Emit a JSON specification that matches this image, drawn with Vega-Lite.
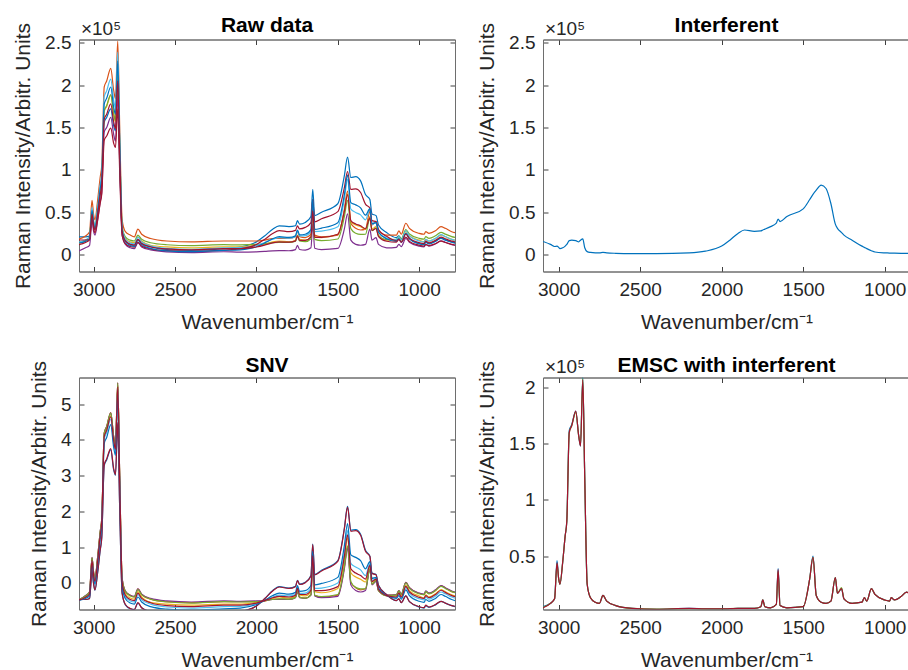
{
"$schema":"https://vega.github.io/schema/vega-lite/v6.json",
"padding":{"left":12,"top":14.5,"right":0,"bottom":0},
"config":{"font":"Liberation Sans","view":{"stroke":"#6e6e6e","strokeWidth":1},
"axis":{"labelFont":"Liberation Sans","labelFontSize":19,"labelColor":"#262626","titleFont":"Liberation Sans","titleFontSize":21,"titleFontWeight":"normal","titleColor":"#262626","domain":true,"ticks":true,"domainColor":"#6e6e6e","tickColor":"#404040","domainWidth":1,"tickWidth":1,"grid":false,"tickSize":-5},
"text":{"font":"Liberation Sans","fontSize":19,"color":"#262626"},
"title":{"font":"Liberation Sans","fontSize":21,"fontWeight":"bold","color":"#000000","anchor":"middle","frame":"group"}},
"datasets":{
"raw":[
{"s":1,"x":3095,"y":0.21},{"s":1,"x":3050,"y":0.21},{"s":1,"x":3025,"y":0.22},{"s":1,"x":3010,"y":0.5},{"s":1,"x":3000,"y":0.36},{"s":1,"x":2992,"y":0.31},{"s":1,"x":2975,"y":0.49},{"s":1,"x":2960,"y":0.7},{"s":1,"x":2950,"y":0.84},{"s":1,"x":2935,"y":1.56},{"s":1,"x":2920,"y":1.62},{"s":1,"x":2895,"y":1.72},{"s":1,"x":2877,"y":1.52},{"s":1,"x":2866,"y":1.46},{"s":1,"x":2852,"y":1.99},{"s":1,"x":2840,"y":1.13},{"s":1,"x":2825,"y":0.27},{"s":1,"x":2805,"y":0.16},{"s":1,"x":2775,"y":0.12},{"s":1,"x":2750,"y":0.11},{"s":1,"x":2728,"y":0.17},{"s":1,"x":2705,"y":0.13},{"s":1,"x":2650,"y":0.09},{"s":1,"x":2550,"y":0.06},{"s":1,"x":2400,"y":0.05},{"s":1,"x":2200,"y":0.07},{"s":1,"x":2100,"y":0.09},{"s":1,"x":2000,"y":0.15},{"s":1,"x":1950,"y":0.22},{"s":1,"x":1900,"y":0.3},{"s":1,"x":1860,"y":0.34},{"s":1,"x":1800,"y":0.33},{"s":1,"x":1760,"y":0.34},{"s":1,"x":1748,"y":0.4},{"s":1,"x":1735,"y":0.36},{"s":1,"x":1700,"y":0.38},{"s":1,"x":1665,"y":0.45},{"s":1,"x":1654,"y":0.77},{"s":1,"x":1642,"y":0.46},{"s":1,"x":1600,"y":0.5},{"s":1,"x":1500,"y":0.6},{"s":1,"x":1460,"y":0.93},{"s":1,"x":1440,"y":1.15},{"s":1,"x":1420,"y":0.91},{"s":1,"x":1390,"y":0.92},{"s":1,"x":1360,"y":0.87},{"s":1,"x":1330,"y":0.71},{"s":1,"x":1303,"y":0.65},{"s":1,"x":1290,"y":0.48},{"s":1,"x":1265,"y":0.46},{"s":1,"x":1250,"y":0.35},{"s":1,"x":1200,"y":0.26},{"s":1,"x":1140,"y":0.2},{"s":1,"x":1125,"y":0.22},{"s":1,"x":1110,"y":0.18},{"s":1,"x":1082,"y":0.25},{"s":1,"x":1060,"y":0.19},{"s":1,"x":1000,"y":0.13},{"s":1,"x":970,"y":0.12},{"s":1,"x":960,"y":0.15},{"s":1,"x":940,"y":0.13},{"s":1,"x":900,"y":0.16},{"s":1,"x":866,"y":0.19},{"s":1,"x":840,"y":0.17},{"s":1,"x":800,"y":0.15},{"s":1,"x":780,"y":0.14},
{"s":2,"x":3095,"y":0.18},{"s":2,"x":3050,"y":0.22},{"s":2,"x":3025,"y":0.27},{"s":2,"x":3010,"y":0.64},{"s":2,"x":3000,"y":0.47},{"s":2,"x":2992,"y":0.41},{"s":2,"x":2975,"y":0.65},{"s":2,"x":2960,"y":0.91},{"s":2,"x":2950,"y":1.06},{"s":2,"x":2935,"y":1.98},{"s":2,"x":2920,"y":2.05},{"s":2,"x":2895,"y":2.2},{"s":2,"x":2877,"y":1.94},{"s":2,"x":2866,"y":1.84},{"s":2,"x":2852,"y":2.52},{"s":2,"x":2840,"y":1.51},{"s":2,"x":2825,"y":0.41},{"s":2,"x":2805,"y":0.27},{"s":2,"x":2775,"y":0.23},{"s":2,"x":2750,"y":0.21},{"s":2,"x":2728,"y":0.3},{"s":2,"x":2705,"y":0.24},{"s":2,"x":2650,"y":0.19},{"s":2,"x":2550,"y":0.16},{"s":2,"x":2400,"y":0.15},{"s":2,"x":2200,"y":0.16},{"s":2,"x":2100,"y":0.16},{"s":2,"x":2000,"y":0.16},{"s":2,"x":1950,"y":0.17},{"s":2,"x":1900,"y":0.19},{"s":2,"x":1860,"y":0.19},{"s":2,"x":1800,"y":0.19},{"s":2,"x":1760,"y":0.21},{"s":2,"x":1748,"y":0.28},{"s":2,"x":1735,"y":0.21},{"s":2,"x":1700,"y":0.2},{"s":2,"x":1665,"y":0.24},{"s":2,"x":1654,"y":0.6},{"s":2,"x":1642,"y":0.23},{"s":2,"x":1600,"y":0.21},{"s":2,"x":1500,"y":0.23},{"s":2,"x":1460,"y":0.53},{"s":2,"x":1440,"y":0.75},{"s":2,"x":1420,"y":0.37},{"s":2,"x":1390,"y":0.31},{"s":2,"x":1360,"y":0.29},{"s":2,"x":1330,"y":0.3},{"s":2,"x":1303,"y":0.51},{"s":2,"x":1290,"y":0.35},{"s":2,"x":1265,"y":0.39},{"s":2,"x":1250,"y":0.28},{"s":2,"x":1200,"y":0.23},{"s":2,"x":1140,"y":0.23},{"s":2,"x":1125,"y":0.28},{"s":2,"x":1110,"y":0.24},{"s":2,"x":1082,"y":0.37},{"s":2,"x":1060,"y":0.31},{"s":2,"x":1000,"y":0.25},{"s":2,"x":970,"y":0.24},{"s":2,"x":960,"y":0.27},{"s":2,"x":940,"y":0.25},{"s":2,"x":900,"y":0.28},{"s":2,"x":866,"y":0.33},{"s":2,"x":840,"y":0.31},{"s":2,"x":800,"y":0.27},{"s":2,"x":780,"y":0.26},
{"s":3,"x":3095,"y":0.13},{"s":3,"x":3050,"y":0.16},{"s":3,"x":3025,"y":0.19},{"s":3,"x":3010,"y":0.52},{"s":3,"x":3000,"y":0.37},{"s":3,"x":2992,"y":0.32},{"s":3,"x":2975,"y":0.52},{"s":3,"x":2960,"y":0.76},{"s":3,"x":2950,"y":0.89},{"s":3,"x":2935,"y":1.69},{"s":3,"x":2920,"y":1.75},{"s":3,"x":2895,"y":1.88},{"s":3,"x":2877,"y":1.66},{"s":3,"x":2866,"y":1.57},{"s":3,"x":2852,"y":2.17},{"s":3,"x":2840,"y":1.27},{"s":3,"x":2825,"y":0.31},{"s":3,"x":2805,"y":0.19},{"s":3,"x":2775,"y":0.15},{"s":3,"x":2750,"y":0.14},{"s":3,"x":2728,"y":0.21},{"s":3,"x":2705,"y":0.16},{"s":3,"x":2650,"y":0.11},{"s":3,"x":2550,"y":0.09},{"s":3,"x":2400,"y":0.08},{"s":3,"x":2200,"y":0.09},{"s":3,"x":2100,"y":0.09},{"s":3,"x":2000,"y":0.11},{"s":3,"x":1950,"y":0.12},{"s":3,"x":1900,"y":0.15},{"s":3,"x":1860,"y":0.16},{"s":3,"x":1800,"y":0.15},{"s":3,"x":1760,"y":0.17},{"s":3,"x":1748,"y":0.23},{"s":3,"x":1735,"y":0.18},{"s":3,"x":1700,"y":0.17},{"s":3,"x":1665,"y":0.21},{"s":3,"x":1654,"y":0.54},{"s":3,"x":1642,"y":0.21},{"s":3,"x":1600,"y":0.2},{"s":3,"x":1500,"y":0.24},{"s":3,"x":1460,"y":0.51},{"s":3,"x":1440,"y":0.72},{"s":3,"x":1420,"y":0.39},{"s":3,"x":1390,"y":0.35},{"s":3,"x":1360,"y":0.33},{"s":3,"x":1330,"y":0.3},{"s":3,"x":1303,"y":0.45},{"s":3,"x":1290,"y":0.3},{"s":3,"x":1265,"y":0.33},{"s":3,"x":1250,"y":0.23},{"s":3,"x":1200,"y":0.17},{"s":3,"x":1140,"y":0.17},{"s":3,"x":1125,"y":0.2},{"s":3,"x":1110,"y":0.17},{"s":3,"x":1082,"y":0.27},{"s":3,"x":1060,"y":0.22},{"s":3,"x":1000,"y":0.17},{"s":3,"x":970,"y":0.15},{"s":3,"x":960,"y":0.18},{"s":3,"x":940,"y":0.16},{"s":3,"x":900,"y":0.19},{"s":3,"x":866,"y":0.23},{"s":3,"x":840,"y":0.21},{"s":3,"x":800,"y":0.18},{"s":3,"x":780,"y":0.17},
{"s":4,"x":3095,"y":0.04},{"s":4,"x":3050,"y":0.08},{"s":4,"x":3025,"y":0.11},{"s":4,"x":3010,"y":0.4},{"s":4,"x":3000,"y":0.27},{"s":4,"x":2992,"y":0.23},{"s":4,"x":2975,"y":0.41},{"s":4,"x":2960,"y":0.62},{"s":4,"x":2950,"y":0.74},{"s":4,"x":2935,"y":1.45},{"s":4,"x":2920,"y":1.5},{"s":4,"x":2895,"y":1.62},{"s":4,"x":2877,"y":1.42},{"s":4,"x":2866,"y":1.34},{"s":4,"x":2852,"y":1.87},{"s":4,"x":2840,"y":1.08},{"s":4,"x":2825,"y":0.23},{"s":4,"x":2805,"y":0.12},{"s":4,"x":2775,"y":0.08},{"s":4,"x":2750,"y":0.07},{"s":4,"x":2728,"y":0.14},{"s":4,"x":2705,"y":0.09},{"s":4,"x":2650,"y":0.055},{"s":4,"x":2550,"y":0.032},{"s":4,"x":2400,"y":0.023},{"s":4,"x":2200,"y":0.033},{"s":4,"x":2100,"y":0.029},{"s":4,"x":2000,"y":0.032},{"s":4,"x":1950,"y":0.037},{"s":4,"x":1900,"y":0.044},{"s":4,"x":1860,"y":0.046},{"s":4,"x":1800,"y":0.045},{"s":4,"x":1760,"y":0.059},{"s":4,"x":1748,"y":0.11},{"s":4,"x":1735,"y":0.06},{"s":4,"x":1700,"y":0.053},{"s":4,"x":1665,"y":0.08},{"s":4,"x":1654,"y":0.36},{"s":4,"x":1642,"y":0.074},{"s":4,"x":1600,"y":0.059},{"s":4,"x":1500,"y":0.072},{"s":4,"x":1460,"y":0.3},{"s":4,"x":1440,"y":0.48},{"s":4,"x":1420,"y":0.17},{"s":4,"x":1390,"y":0.12},{"s":4,"x":1360,"y":0.11},{"s":4,"x":1330,"y":0.12},{"s":4,"x":1303,"y":0.3},{"s":4,"x":1290,"y":0.17},{"s":4,"x":1265,"y":0.2},{"s":4,"x":1250,"y":0.12},{"s":4,"x":1200,"y":0.08},{"s":4,"x":1140,"y":0.086},{"s":4,"x":1125,"y":0.12},{"s":4,"x":1110,"y":0.094},{"s":4,"x":1082,"y":0.19},{"s":4,"x":1060,"y":0.146},{"s":4,"x":1000,"y":0.1},{"s":4,"x":970,"y":0.091},{"s":4,"x":960,"y":0.118},{"s":4,"x":940,"y":0.1},{"s":4,"x":900,"y":0.127},{"s":4,"x":866,"y":0.163},{"s":4,"x":840,"y":0.145},{"s":4,"x":800,"y":0.118},{"s":4,"x":780,"y":0.109},
{"s":5,"x":3095,"y":0.14},{"s":5,"x":3050,"y":0.17},{"s":5,"x":3025,"y":0.21},{"s":5,"x":3010,"y":0.53},{"s":5,"x":3000,"y":0.39},{"s":5,"x":2992,"y":0.34},{"s":5,"x":2975,"y":0.54},{"s":5,"x":2960,"y":0.77},{"s":5,"x":2950,"y":0.9},{"s":5,"x":2935,"y":1.7},{"s":5,"x":2920,"y":1.76},{"s":5,"x":2895,"y":1.89},{"s":5,"x":2877,"y":1.67},{"s":5,"x":2866,"y":1.58},{"s":5,"x":2852,"y":2.17},{"s":5,"x":2840,"y":1.29},{"s":5,"x":2825,"y":0.33},{"s":5,"x":2805,"y":0.21},{"s":5,"x":2775,"y":0.17},{"s":5,"x":2750,"y":0.16},{"s":5,"x":2728,"y":0.23},{"s":5,"x":2705,"y":0.18},{"s":5,"x":2650,"y":0.14},{"s":5,"x":2550,"y":0.116},{"s":5,"x":2400,"y":0.106},{"s":5,"x":2200,"y":0.117},{"s":5,"x":2100,"y":0.114},{"s":5,"x":2000,"y":0.12},{"s":5,"x":1950,"y":0.129},{"s":5,"x":1900,"y":0.14},{"s":5,"x":1860,"y":0.144},{"s":5,"x":1800,"y":0.143},{"s":5,"x":1760,"y":0.158},{"s":5,"x":1748,"y":0.219},{"s":5,"x":1735,"y":0.16},{"s":5,"x":1700,"y":0.153},{"s":5,"x":1665,"y":0.187},{"s":5,"x":1654,"y":0.502},{"s":5,"x":1642,"y":0.179},{"s":5,"x":1600,"y":0.165},{"s":5,"x":1500,"y":0.184},{"s":5,"x":1460,"y":0.445},{"s":5,"x":1440,"y":0.641},{"s":5,"x":1420,"y":0.306},{"s":5,"x":1390,"y":0.252},{"s":5,"x":1360,"y":0.238},{"s":5,"x":1330,"y":0.24},{"s":5,"x":1303,"y":0.426},{"s":5,"x":1290,"y":0.281},{"s":5,"x":1265,"y":0.316},{"s":5,"x":1250,"y":0.223},{"s":5,"x":1200,"y":0.177},{"s":5,"x":1140,"y":0.18},{"s":5,"x":1125,"y":0.219},{"s":5,"x":1110,"y":0.187},{"s":5,"x":1082,"y":0.295},{"s":5,"x":1060,"y":0.243},{"s":5,"x":1000,"y":0.192},{"s":5,"x":970,"y":0.182},{"s":5,"x":960,"y":0.212},{"s":5,"x":940,"y":0.192},{"s":5,"x":900,"y":0.222},{"s":5,"x":866,"y":0.262},{"s":5,"x":840,"y":0.242},{"s":5,"x":800,"y":0.212},{"s":5,"x":780,"y":0.202},
{"s":6,"x":3095,"y":0.144},{"s":6,"x":3050,"y":0.172},{"s":6,"x":3025,"y":0.205},{"s":6,"x":3010,"y":0.559},{"s":6,"x":3000,"y":0.398},{"s":6,"x":2992,"y":0.337},{"s":6,"x":2975,"y":0.561},{"s":6,"x":2960,"y":0.823},{"s":6,"x":2950,"y":0.975},{"s":6,"x":2935,"y":1.864},{"s":6,"x":2920,"y":1.933},{"s":6,"x":2895,"y":2.073},{"s":6,"x":2877,"y":1.825},{"s":6,"x":2866,"y":1.735},{"s":6,"x":2852,"y":2.39},{"s":6,"x":2840,"y":1.386},{"s":6,"x":2825,"y":0.321},{"s":6,"x":2805,"y":0.184},{"s":6,"x":2775,"y":0.138},{"s":6,"x":2750,"y":0.127},{"s":6,"x":2728,"y":0.206},{"s":6,"x":2705,"y":0.149},{"s":6,"x":2650,"y":0.103},{"s":6,"x":2550,"y":0.074},{"s":6,"x":2400,"y":0.063},{"s":6,"x":2200,"y":0.078},{"s":6,"x":2100,"y":0.081},{"s":6,"x":2000,"y":0.108},{"s":6,"x":1950,"y":0.142},{"s":6,"x":1900,"y":0.181},{"s":6,"x":1860,"y":0.199},{"s":6,"x":1800,"y":0.193},{"s":6,"x":1760,"y":0.211},{"s":6,"x":1748,"y":0.282},{"s":6,"x":1735,"y":0.22},{"s":6,"x":1700,"y":0.223},{"s":6,"x":1665,"y":0.274},{"s":6,"x":1654,"y":0.637},{"s":6,"x":1642,"y":0.272},{"s":6,"x":1600,"y":0.277},{"s":6,"x":1500,"y":0.328},{"s":6,"x":1460,"y":0.653},{"s":6,"x":1440,"y":0.889},{"s":6,"x":1420,"y":0.537},{"s":6,"x":1390,"y":0.498},{"s":6,"x":1360,"y":0.469},{"s":6,"x":1330,"y":0.41},{"s":6,"x":1303,"y":0.533},{"s":6,"x":1290,"y":0.357},{"s":6,"x":1265,"y":0.378},{"s":6,"x":1250,"y":0.266},{"s":6,"x":1200,"y":0.195},{"s":6,"x":1140,"y":0.174},{"s":6,"x":1125,"y":0.211},{"s":6,"x":1110,"y":0.172},{"s":6,"x":1082,"y":0.281},{"s":6,"x":1060,"y":0.22},{"s":6,"x":1000,"y":0.16},{"s":6,"x":970,"y":0.148},{"s":6,"x":960,"y":0.181},{"s":6,"x":940,"y":0.158},{"s":6,"x":900,"y":0.191},{"s":6,"x":866,"y":0.235},{"s":6,"x":840,"y":0.213},{"s":6,"x":800,"y":0.18},{"s":6,"x":780,"y":0.169},
{"s":7,"x":3095,"y":0.172},{"s":7,"x":3050,"y":0.172},{"s":7,"x":3025,"y":0.181},{"s":7,"x":3010,"y":0.425},{"s":7,"x":3000,"y":0.307},{"s":7,"x":2992,"y":0.257},{"s":7,"x":2975,"y":0.416},{"s":7,"x":2960,"y":0.605},{"s":7,"x":2950,"y":0.72},{"s":7,"x":2935,"y":1.35},{"s":7,"x":2920,"y":1.4},{"s":7,"x":2895,"y":1.493},{"s":7,"x":2877,"y":1.315},{"s":7,"x":2866,"y":1.265},{"s":7,"x":2852,"y":1.72},{"s":7,"x":2840,"y":0.978},{"s":7,"x":2825,"y":0.228},{"s":7,"x":2805,"y":0.129},{"s":7,"x":2775,"y":0.095},{"s":7,"x":2750,"y":0.087},{"s":7,"x":2728,"y":0.144},{"s":7,"x":2705,"y":0.102},{"s":7,"x":2650,"y":0.068},{"s":7,"x":2550,"y":0.046},{"s":7,"x":2400,"y":0.039},{"s":7,"x":2200,"y":0.053},{"s":7,"x":2100,"y":0.067},{"s":7,"x":2000,"y":0.118},{"s":7,"x":1950,"y":0.179},{"s":7,"x":1900,"y":0.249},{"s":7,"x":1860,"y":0.283},{"s":7,"x":1800,"y":0.27},{"s":7,"x":1760,"y":0.286},{"s":7,"x":1748,"y":0.339},{"s":7,"x":1735,"y":0.303},{"s":7,"x":1700,"y":0.321},{"s":7,"x":1665,"y":0.377},{"s":7,"x":1654,"y":0.652},{"s":7,"x":1642,"y":0.387},{"s":7,"x":1600,"y":0.423},{"s":7,"x":1500,"y":0.507},{"s":7,"x":1460,"y":0.788},{"s":7,"x":1440,"y":0.981},{"s":7,"x":1420,"y":0.769},{"s":7,"x":1390,"y":0.775},{"s":7,"x":1360,"y":0.733},{"s":7,"x":1330,"y":0.595},{"s":7,"x":1303,"y":0.549},{"s":7,"x":1290,"y":0.401},{"s":7,"x":1265,"y":0.389},{"s":7,"x":1250,"y":0.296},{"s":7,"x":1200,"y":0.215},{"s":7,"x":1140,"y":0.163},{"s":7,"x":1125,"y":0.18},{"s":7,"x":1110,"y":0.145},{"s":7,"x":1082,"y":0.206},{"s":7,"x":1060,"y":0.156},{"s":7,"x":1000,"y":0.11},{"s":7,"x":970,"y":0.1},{"s":7,"x":960,"y":0.122},{"s":7,"x":940,"y":0.106},{"s":7,"x":900,"y":0.128},{"s":7,"x":866,"y":0.158},{"s":7,"x":840,"y":0.143},{"s":7,"x":800,"y":0.12},{"s":7,"x":780,"y":0.113},
{"s":8,"x":3095,"y":0.135},{"s":8,"x":3050,"y":0.156},{"s":8,"x":3025,"y":0.183},{"s":8,"x":3010,"y":0.522},{"s":8,"x":3000,"y":0.366},{"s":8,"x":2992,"y":0.305},{"s":8,"x":2975,"y":0.521},{"s":8,"x":2960,"y":0.774},{"s":8,"x":2950,"y":0.923},{"s":8,"x":2935,"y":1.779},{"s":8,"x":2920,"y":1.845},{"s":8,"x":2895,"y":1.979},{"s":8,"x":2877,"y":1.739},{"s":8,"x":2866,"y":1.656},{"s":8,"x":2852,"y":2.285},{"s":8,"x":2840,"y":1.308},{"s":8,"x":2825,"y":0.284},{"s":8,"x":2805,"y":0.152},{"s":8,"x":2775,"y":0.107},{"s":8,"x":2750,"y":0.096},{"s":8,"x":2728,"y":0.173},{"s":8,"x":2705,"y":0.117},{"s":8,"x":2650,"y":0.072},{"s":8,"x":2550,"y":0.044},{"s":8,"x":2400,"y":0.034},{"s":8,"x":2200,"y":0.049},{"s":8,"x":2100,"y":0.056},{"s":8,"x":2000,"y":0.092},{"s":8,"x":1950,"y":0.136},{"s":8,"x":1900,"y":0.187},{"s":8,"x":1860,"y":0.211},{"s":8,"x":1800,"y":0.202},{"s":8,"x":1760,"y":0.221},{"s":8,"x":1748,"y":0.29},{"s":8,"x":1735,"y":0.233},{"s":8,"x":1700,"y":0.24},{"s":8,"x":1665,"y":0.296},{"s":8,"x":1654,"y":0.651},{"s":8,"x":1642,"y":0.297},{"s":8,"x":1600,"y":0.312},{"s":8,"x":1500,"y":0.377},{"s":8,"x":1460,"y":0.705},{"s":8,"x":1440,"y":0.941},{"s":8,"x":1420,"y":0.614},{"s":8,"x":1390,"y":0.587},{"s":8,"x":1360,"y":0.552},{"s":8,"x":1330,"y":0.465},{"s":8,"x":1303,"y":0.542},{"s":8,"x":1290,"y":0.365},{"s":8,"x":1265,"y":0.377},{"s":8,"x":1250,"y":0.264},{"s":8,"x":1200,"y":0.186},{"s":8,"x":1140,"y":0.155},{"s":8,"x":1125,"y":0.188},{"s":8,"x":1110,"y":0.147},{"s":8,"x":1082,"y":0.248},{"s":8,"x":1060,"y":0.186},{"s":8,"x":1000,"y":0.128},{"s":8,"x":970,"y":0.116},{"s":8,"x":960,"y":0.147},{"s":8,"x":940,"y":0.125},{"s":8,"x":900,"y":0.156},{"s":8,"x":866,"y":0.198},{"s":8,"x":840,"y":0.177},{"s":8,"x":800,"y":0.146},{"s":8,"x":780,"y":0.135},
{"s":9,"x":3095,"y":0.115},{"s":9,"x":3050,"y":0.142},{"s":9,"x":3025,"y":0.173},{"s":9,"x":3010,"y":0.478},{"s":9,"x":3000,"y":0.341},{"s":9,"x":2992,"y":0.289},{"s":9,"x":2975,"y":0.482},{"s":9,"x":2960,"y":0.706},{"s":9,"x":2950,"y":0.836},{"s":9,"x":2935,"y":1.6},{"s":9,"x":2920,"y":1.658},{"s":9,"x":2895,"y":1.78},{"s":9,"x":2877,"y":1.567},{"s":9,"x":2866,"y":1.487},{"s":9,"x":2852,"y":2.052},{"s":9,"x":2840,"y":1.194},{"s":9,"x":2825,"y":0.278},{"s":9,"x":2805,"y":0.161},{"s":9,"x":2775,"y":0.122},{"s":9,"x":2750,"y":0.112},{"s":9,"x":2728,"y":0.18},{"s":9,"x":2705,"y":0.131},{"s":9,"x":2650,"y":0.092},{"s":9,"x":2550,"y":0.067},{"s":9,"x":2400,"y":0.057},{"s":9,"x":2200,"y":0.069},{"s":9,"x":2100,"y":0.071},{"s":9,"x":2000,"y":0.089},{"s":9,"x":1950,"y":0.111},{"s":9,"x":1900,"y":0.138},{"s":9,"x":1860,"y":0.15},{"s":9,"x":1800,"y":0.146},{"s":9,"x":1760,"y":0.162},{"s":9,"x":1748,"y":0.222},{"s":9,"x":1735,"y":0.168},{"s":9,"x":1700,"y":0.167},{"s":9,"x":1665,"y":0.208},{"s":9,"x":1654,"y":0.517},{"s":9,"x":1642,"y":0.204},{"s":9,"x":1600,"y":0.203},{"s":9,"x":1500,"y":0.24},{"s":9,"x":1460,"y":0.51},{"s":9,"x":1440,"y":0.709},{"s":9,"x":1420,"y":0.401},{"s":9,"x":1390,"y":0.362},{"s":9,"x":1360,"y":0.34},{"s":9,"x":1330,"y":0.305},{"s":9,"x":1303,"y":0.433},{"s":9,"x":1290,"y":0.285},{"s":9,"x":1265,"y":0.308},{"s":9,"x":1250,"y":0.213},{"s":9,"x":1200,"y":0.157},{"s":9,"x":1140,"y":0.146},{"s":9,"x":1125,"y":0.179},{"s":9,"x":1110,"y":0.146},{"s":9,"x":1082,"y":0.243},{"s":9,"x":1060,"y":0.191},{"s":9,"x":1000,"y":0.141},{"s":9,"x":970,"y":0.13},{"s":9,"x":960,"y":0.159},{"s":9,"x":940,"y":0.139},{"s":9,"x":900,"y":0.168},{"s":9,"x":866,"y":0.206},{"s":9,"x":840,"y":0.187},{"s":9,"x":800,"y":0.158},{"s":9,"x":780,"y":0.149}
],
"snv":[
{"s":1,"x":3095,"y":-0.47},{"s":1,"x":3050,"y":-0.47},{"s":1,"x":3025,"y":-0.45},{"s":1,"x":3010,"y":0.33},{"s":1,"x":3000,"y":-0.04},{"s":1,"x":2992,"y":-0.21},{"s":1,"x":2975,"y":0.3},{"s":1,"x":2960,"y":0.9},{"s":1,"x":2950,"y":1.27},{"s":1,"x":2935,"y":3.28},{"s":1,"x":2920,"y":3.44},{"s":1,"x":2895,"y":3.73},{"s":1,"x":2877,"y":3.16},{"s":1,"x":2866,"y":3.01},{"s":1,"x":2852,"y":4.45},{"s":1,"x":2840,"y":2.09},{"s":1,"x":2825,"y":-0.3},{"s":1,"x":2805,"y":-0.62},{"s":1,"x":2775,"y":-0.73},{"s":1,"x":2750,"y":-0.75},{"s":1,"x":2728,"y":-0.57},{"s":1,"x":2705,"y":-0.7},{"s":1,"x":2650,"y":-0.81},{"s":1,"x":2550,"y":-0.88},{"s":1,"x":2400,"y":-0.9},{"s":1,"x":2200,"y":-0.86},{"s":1,"x":2100,"y":-0.81},{"s":1,"x":2000,"y":-0.65},{"s":1,"x":1950,"y":-0.45},{"s":1,"x":1900,"y":-0.22},{"s":1,"x":1860,"y":-0.11},{"s":1,"x":1800,"y":-0.15},{"s":1,"x":1760,"y":-0.1},{"s":1,"x":1748,"y":0.07},{"s":1,"x":1735,"y":-0.04},{"s":1,"x":1700,"y":0.01},{"s":1,"x":1665,"y":0.2},{"s":1,"x":1654,"y":1.08},{"s":1,"x":1642,"y":0.23},{"s":1,"x":1600,"y":0.35},{"s":1,"x":1500,"y":0.62},{"s":1,"x":1460,"y":1.52},{"s":1,"x":1440,"y":2.14},{"s":1,"x":1420,"y":1.47},{"s":1,"x":1390,"y":1.49},{"s":1,"x":1360,"y":1.36},{"s":1,"x":1330,"y":0.91},{"s":1,"x":1303,"y":0.74},{"s":1,"x":1290,"y":0.27},{"s":1,"x":1265,"y":0.23},{"s":1,"x":1250,"y":-0.07},{"s":1,"x":1200,"y":-0.33},{"s":1,"x":1140,"y":-0.5},{"s":1,"x":1125,"y":-0.45},{"s":1,"x":1110,"y":-0.56},{"s":1,"x":1082,"y":-0.37},{"s":1,"x":1060,"y":-0.53},{"s":1,"x":1000,"y":-0.68},{"s":1,"x":970,"y":-0.71},{"s":1,"x":960,"y":-0.64},{"s":1,"x":940,"y":-0.69},{"s":1,"x":900,"y":-0.62},{"s":1,"x":866,"y":-0.52},{"s":1,"x":840,"y":-0.57},{"s":1,"x":800,"y":-0.64},{"s":1,"x":780,"y":-0.67},
{"s":2,"x":3095,"y":-0.48},{"s":2,"x":3050,"y":-0.37},{"s":2,"x":3025,"y":-0.25},{"s":2,"x":3010,"y":0.7},{"s":2,"x":3000,"y":0.27},{"s":2,"x":2992,"y":0.12},{"s":2,"x":2975,"y":0.74},{"s":2,"x":2960,"y":1.41},{"s":2,"x":2950,"y":1.8},{"s":2,"x":2935,"y":4.2},{"s":2,"x":2920,"y":4.38},{"s":2,"x":2895,"y":4.77},{"s":2,"x":2877,"y":4.09},{"s":2,"x":2866,"y":3.83},{"s":2,"x":2852,"y":5.6},{"s":2,"x":2840,"y":2.97},{"s":2,"x":2825,"y":0.12},{"s":2,"x":2805,"y":-0.25},{"s":2,"x":2775,"y":-0.35},{"s":2,"x":2750,"y":-0.4},{"s":2,"x":2728,"y":-0.17},{"s":2,"x":2705,"y":-0.33},{"s":2,"x":2650,"y":-0.46},{"s":2,"x":2550,"y":-0.53},{"s":2,"x":2400,"y":-0.56},{"s":2,"x":2200,"y":-0.53},{"s":2,"x":2100,"y":-0.53},{"s":2,"x":2000,"y":-0.53},{"s":2,"x":1950,"y":-0.51},{"s":2,"x":1900,"y":-0.46},{"s":2,"x":1860,"y":-0.46},{"s":2,"x":1800,"y":-0.46},{"s":2,"x":1760,"y":-0.4},{"s":2,"x":1748,"y":-0.22},{"s":2,"x":1735,"y":-0.4},{"s":2,"x":1700,"y":-0.43},{"s":2,"x":1665,"y":-0.33},{"s":2,"x":1654,"y":0.61},{"s":2,"x":1642,"y":-0.35},{"s":2,"x":1600,"y":-0.4},{"s":2,"x":1500,"y":-0.35},{"s":2,"x":1460,"y":0.43},{"s":2,"x":1440,"y":1.0},{"s":2,"x":1420,"y":0.01},{"s":2,"x":1390,"y":-0.14},{"s":2,"x":1360,"y":-0.2},{"s":2,"x":1330,"y":-0.17},{"s":2,"x":1303,"y":0.38},{"s":2,"x":1290,"y":-0.04},{"s":2,"x":1265,"y":0.06},{"s":2,"x":1250,"y":-0.22},{"s":2,"x":1200,"y":-0.35},{"s":2,"x":1140,"y":-0.35},{"s":2,"x":1125,"y":-0.22},{"s":2,"x":1110,"y":-0.33},{"s":2,"x":1082,"y":0.01},{"s":2,"x":1060,"y":-0.14},{"s":2,"x":1000,"y":-0.3},{"s":2,"x":970,"y":-0.33},{"s":2,"x":960,"y":-0.25},{"s":2,"x":940,"y":-0.3},{"s":2,"x":900,"y":-0.22},{"s":2,"x":866,"y":-0.09},{"s":2,"x":840,"y":-0.14},{"s":2,"x":800,"y":-0.25},{"s":2,"x":780,"y":-0.27},
{"s":3,"x":3095,"y":-0.49},{"s":3,"x":3050,"y":-0.4},{"s":3,"x":3025,"y":-0.31},{"s":3,"x":3010,"y":0.67},{"s":3,"x":3000,"y":0.22},{"s":3,"x":2992,"y":0.08},{"s":3,"x":2975,"y":0.67},{"s":3,"x":2960,"y":1.38},{"s":3,"x":2950,"y":1.76},{"s":3,"x":2935,"y":4.12},{"s":3,"x":2920,"y":4.3},{"s":3,"x":2895,"y":4.68},{"s":3,"x":2877,"y":4.03},{"s":3,"x":2866,"y":3.77},{"s":3,"x":2852,"y":5.54},{"s":3,"x":2840,"y":2.88},{"s":3,"x":2825,"y":0.05},{"s":3,"x":2805,"y":-0.31},{"s":3,"x":2775,"y":-0.43},{"s":3,"x":2750,"y":-0.46},{"s":3,"x":2728,"y":-0.25},{"s":3,"x":2705,"y":-0.4},{"s":3,"x":2650,"y":-0.55},{"s":3,"x":2550,"y":-0.6},{"s":3,"x":2400,"y":-0.63},{"s":3,"x":2200,"y":-0.6},{"s":3,"x":2100,"y":-0.6},{"s":3,"x":2000,"y":-0.55},{"s":3,"x":1950,"y":-0.52},{"s":3,"x":1900,"y":-0.43},{"s":3,"x":1860,"y":-0.4},{"s":3,"x":1800,"y":-0.43},{"s":3,"x":1760,"y":-0.37},{"s":3,"x":1748,"y":-0.19},{"s":3,"x":1735,"y":-0.34},{"s":3,"x":1700,"y":-0.37},{"s":3,"x":1665,"y":-0.25},{"s":3,"x":1654,"y":0.73},{"s":3,"x":1642,"y":-0.25},{"s":3,"x":1600,"y":-0.28},{"s":3,"x":1500,"y":-0.16},{"s":3,"x":1460,"y":0.64},{"s":3,"x":1440,"y":1.26},{"s":3,"x":1420,"y":0.28},{"s":3,"x":1390,"y":0.16},{"s":3,"x":1360,"y":0.1},{"s":3,"x":1330,"y":0.02},{"s":3,"x":1303,"y":0.46},{"s":3,"x":1290,"y":0.02},{"s":3,"x":1265,"y":0.1},{"s":3,"x":1250,"y":-0.19},{"s":3,"x":1200,"y":-0.37},{"s":3,"x":1140,"y":-0.37},{"s":3,"x":1125,"y":-0.28},{"s":3,"x":1110,"y":-0.37},{"s":3,"x":1082,"y":-0.07},{"s":3,"x":1060,"y":-0.22},{"s":3,"x":1000,"y":-0.37},{"s":3,"x":970,"y":-0.43},{"s":3,"x":960,"y":-0.34},{"s":3,"x":940,"y":-0.4},{"s":3,"x":900,"y":-0.31},{"s":3,"x":866,"y":-0.19},{"s":3,"x":840,"y":-0.25},{"s":3,"x":800,"y":-0.34},{"s":3,"x":780,"y":-0.37},
{"s":4,"x":3095,"y":-0.49},{"s":4,"x":3050,"y":-0.36},{"s":4,"x":3025,"y":-0.25},{"s":4,"x":3010,"y":0.71},{"s":4,"x":3000,"y":0.29},{"s":4,"x":2992,"y":0.14},{"s":4,"x":2975,"y":0.74},{"s":4,"x":2960,"y":1.43},{"s":4,"x":2950,"y":1.82},{"s":4,"x":2935,"y":4.19},{"s":4,"x":2920,"y":4.37},{"s":4,"x":2895,"y":4.76},{"s":4,"x":2877,"y":4.1},{"s":4,"x":2866,"y":3.83},{"s":4,"x":2852,"y":5.6},{"s":4,"x":2840,"y":2.98},{"s":4,"x":2825,"y":0.13},{"s":4,"x":2805,"y":-0.23},{"s":4,"x":2775,"y":-0.35},{"s":4,"x":2750,"y":-0.38},{"s":4,"x":2728,"y":-0.17},{"s":4,"x":2705,"y":-0.32},{"s":4,"x":2650,"y":-0.44},{"s":4,"x":2550,"y":-0.51},{"s":4,"x":2400,"y":-0.54},{"s":4,"x":2200,"y":-0.51},{"s":4,"x":2100,"y":-0.52},{"s":4,"x":2000,"y":-0.51},{"s":4,"x":1950,"y":-0.5},{"s":4,"x":1900,"y":-0.47},{"s":4,"x":1860,"y":-0.47},{"s":4,"x":1800,"y":-0.47},{"s":4,"x":1760,"y":-0.42},{"s":4,"x":1748,"y":-0.26},{"s":4,"x":1735,"y":-0.42},{"s":4,"x":1700,"y":-0.44},{"s":4,"x":1665,"y":-0.35},{"s":4,"x":1654,"y":0.58},{"s":4,"x":1642,"y":-0.37},{"s":4,"x":1600,"y":-0.42},{"s":4,"x":1500,"y":-0.38},{"s":4,"x":1460,"y":0.38},{"s":4,"x":1440,"y":0.97},{"s":4,"x":1420,"y":-0.06},{"s":4,"x":1390,"y":-0.22},{"s":4,"x":1360,"y":-0.26},{"s":4,"x":1330,"y":-0.22},{"s":4,"x":1303,"y":0.38},{"s":4,"x":1290,"y":-0.06},{"s":4,"x":1265,"y":0.04},{"s":4,"x":1250,"y":-0.22},{"s":4,"x":1200,"y":-0.35},{"s":4,"x":1140,"y":-0.33},{"s":4,"x":1125,"y":-0.22},{"s":4,"x":1110,"y":-0.31},{"s":4,"x":1082,"y":0.01},{"s":4,"x":1060,"y":-0.14},{"s":4,"x":1000,"y":-0.29},{"s":4,"x":970,"y":-0.32},{"s":4,"x":960,"y":-0.23},{"s":4,"x":940,"y":-0.29},{"s":4,"x":900,"y":-0.2},{"s":4,"x":866,"y":-0.08},{"s":4,"x":840,"y":-0.14},{"s":4,"x":800,"y":-0.23},{"s":4,"x":780,"y":-0.26},
{"s":5,"x":3095,"y":-0.48},{"s":5,"x":3050,"y":-0.37},{"s":5,"x":3025,"y":-0.26},{"s":5,"x":3010,"y":0.7},{"s":5,"x":3000,"y":0.28},{"s":5,"x":2992,"y":0.12},{"s":5,"x":2975,"y":0.72},{"s":5,"x":2960,"y":1.42},{"s":5,"x":2950,"y":1.81},{"s":5,"x":2935,"y":4.18},{"s":5,"x":2920,"y":4.36},{"s":5,"x":2895,"y":4.75},{"s":5,"x":2877,"y":4.09},{"s":5,"x":2866,"y":3.83},{"s":5,"x":2852,"y":5.59},{"s":5,"x":2840,"y":2.96},{"s":5,"x":2825,"y":0.11},{"s":5,"x":2805,"y":-0.25},{"s":5,"x":2775,"y":-0.37},{"s":5,"x":2750,"y":-0.4},{"s":5,"x":2728,"y":-0.19},{"s":5,"x":2705,"y":-0.34},{"s":5,"x":2650,"y":-0.46},{"s":5,"x":2550,"y":-0.54},{"s":5,"x":2400,"y":-0.57},{"s":5,"x":2200,"y":-0.53},{"s":5,"x":2100,"y":-0.54},{"s":5,"x":2000,"y":-0.53},{"s":5,"x":1950,"y":-0.5},{"s":5,"x":1900,"y":-0.47},{"s":5,"x":1860,"y":-0.45},{"s":5,"x":1800,"y":-0.46},{"s":5,"x":1760,"y":-0.41},{"s":5,"x":1748,"y":-0.23},{"s":5,"x":1735,"y":-0.41},{"s":5,"x":1700,"y":-0.43},{"s":5,"x":1665,"y":-0.33},{"s":5,"x":1654,"y":0.62},{"s":5,"x":1642,"y":-0.35},{"s":5,"x":1600,"y":-0.39},{"s":5,"x":1500,"y":-0.33},{"s":5,"x":1460,"y":0.45},{"s":5,"x":1440,"y":1.03},{"s":5,"x":1420,"y":0.03},{"s":5,"x":1390,"y":-0.13},{"s":5,"x":1360,"y":-0.17},{"s":5,"x":1330,"y":-0.17},{"s":5,"x":1303,"y":0.39},{"s":5,"x":1290,"y":-0.04},{"s":5,"x":1265,"y":0.06},{"s":5,"x":1250,"y":-0.22},{"s":5,"x":1200,"y":-0.36},{"s":5,"x":1140,"y":-0.35},{"s":5,"x":1125,"y":-0.23},{"s":5,"x":1110,"y":-0.33},{"s":5,"x":1082,"y":0.0},{"s":5,"x":1060,"y":-0.16},{"s":5,"x":1000,"y":-0.31},{"s":5,"x":970,"y":-0.34},{"s":5,"x":960,"y":-0.25},{"s":5,"x":940,"y":-0.31},{"s":5,"x":900,"y":-0.22},{"s":5,"x":866,"y":-0.1},{"s":5,"x":840,"y":-0.16},{"s":5,"x":800,"y":-0.25},{"s":5,"x":780,"y":-0.28},
{"s":6,"x":3095,"y":-0.49},{"s":6,"x":3050,"y":-0.42},{"s":6,"x":3025,"y":-0.33},{"s":6,"x":3010,"y":0.6},{"s":6,"x":3000,"y":0.17},{"s":6,"x":2992,"y":0.01},{"s":6,"x":2975,"y":0.6},{"s":6,"x":2960,"y":1.29},{"s":6,"x":2950,"y":1.69},{"s":6,"x":2935,"y":4.03},{"s":6,"x":2920,"y":4.21},{"s":6,"x":2895,"y":4.58},{"s":6,"x":2877,"y":3.93},{"s":6,"x":2866,"y":3.69},{"s":6,"x":2852,"y":5.41},{"s":6,"x":2840,"y":2.77},{"s":6,"x":2825,"y":-0.03},{"s":6,"x":2805,"y":-0.39},{"s":6,"x":2775,"y":-0.51},{"s":6,"x":2750,"y":-0.54},{"s":6,"x":2728,"y":-0.33},{"s":6,"x":2705,"y":-0.48},{"s":6,"x":2650,"y":-0.6},{"s":6,"x":2550,"y":-0.68},{"s":6,"x":2400,"y":-0.71},{"s":6,"x":2200,"y":-0.67},{"s":6,"x":2100,"y":-0.66},{"s":6,"x":2000,"y":-0.59},{"s":6,"x":1950,"y":-0.5},{"s":6,"x":1900,"y":-0.4},{"s":6,"x":1860,"y":-0.35},{"s":6,"x":1800,"y":-0.37},{"s":6,"x":1760,"y":-0.32},{"s":6,"x":1748,"y":-0.13},{"s":6,"x":1735,"y":-0.3},{"s":6,"x":1700,"y":-0.29},{"s":6,"x":1665,"y":-0.15},{"s":6,"x":1654,"y":0.8},{"s":6,"x":1642,"y":-0.16},{"s":6,"x":1600,"y":-0.15},{"s":6,"x":1500,"y":-0.01},{"s":6,"x":1460,"y":0.84},{"s":6,"x":1440,"y":1.46},{"s":6,"x":1420,"y":0.54},{"s":6,"x":1390,"y":0.44},{"s":6,"x":1360,"y":0.36},{"s":6,"x":1330,"y":0.2},{"s":6,"x":1303,"y":0.53},{"s":6,"x":1290,"y":0.06},{"s":6,"x":1265,"y":0.12},{"s":6,"x":1250,"y":-0.18},{"s":6,"x":1200,"y":-0.36},{"s":6,"x":1140,"y":-0.42},{"s":6,"x":1125,"y":-0.32},{"s":6,"x":1110,"y":-0.42},{"s":6,"x":1082,"y":-0.13},{"s":6,"x":1060,"y":-0.3},{"s":6,"x":1000,"y":-0.45},{"s":6,"x":970,"y":-0.48},{"s":6,"x":960,"y":-0.4},{"s":6,"x":940,"y":-0.46},{"s":6,"x":900,"y":-0.37},{"s":6,"x":866,"y":-0.26},{"s":6,"x":840,"y":-0.31},{"s":6,"x":800,"y":-0.4},{"s":6,"x":780,"y":-0.43},
{"s":7,"x":3095,"y":-0.47},{"s":7,"x":3050,"y":-0.47},{"s":7,"x":3025,"y":-0.44},{"s":7,"x":3010,"y":0.34},{"s":7,"x":3000,"y":-0.04},{"s":7,"x":2992,"y":-0.2},{"s":7,"x":2975,"y":0.31},{"s":7,"x":2960,"y":0.92},{"s":7,"x":2950,"y":1.28},{"s":7,"x":2935,"y":3.31},{"s":7,"x":2920,"y":3.47},{"s":7,"x":2895,"y":3.76},{"s":7,"x":2877,"y":3.2},{"s":7,"x":2866,"y":3.03},{"s":7,"x":2852,"y":4.49},{"s":7,"x":2840,"y":2.11},{"s":7,"x":2825,"y":-0.29},{"s":7,"x":2805,"y":-0.61},{"s":7,"x":2775,"y":-0.72},{"s":7,"x":2750,"y":-0.75},{"s":7,"x":2728,"y":-0.56},{"s":7,"x":2705,"y":-0.7},{"s":7,"x":2650,"y":-0.81},{"s":7,"x":2550,"y":-0.88},{"s":7,"x":2400,"y":-0.9},{"s":7,"x":2200,"y":-0.85},{"s":7,"x":2100,"y":-0.81},{"s":7,"x":2000,"y":-0.65},{"s":7,"x":1950,"y":-0.45},{"s":7,"x":1900,"y":-0.23},{"s":7,"x":1860,"y":-0.12},{"s":7,"x":1800,"y":-0.16},{"s":7,"x":1760,"y":-0.11},{"s":7,"x":1748,"y":0.06},{"s":7,"x":1735,"y":-0.05},{"s":7,"x":1700,"y":0.0},{"s":7,"x":1665,"y":0.19},{"s":7,"x":1654,"y":1.07},{"s":7,"x":1642,"y":0.22},{"s":7,"x":1600,"y":0.33},{"s":7,"x":1500,"y":0.6},{"s":7,"x":1460,"y":1.5},{"s":7,"x":1440,"y":2.12},{"s":7,"x":1420,"y":1.44},{"s":7,"x":1390,"y":1.46},{"s":7,"x":1360,"y":1.33},{"s":7,"x":1330,"y":0.88},{"s":7,"x":1303,"y":0.74},{"s":7,"x":1290,"y":0.26},{"s":7,"x":1265,"y":0.22},{"s":7,"x":1250,"y":-0.08},{"s":7,"x":1200,"y":-0.34},{"s":7,"x":1140,"y":-0.5},{"s":7,"x":1125,"y":-0.45},{"s":7,"x":1110,"y":-0.56},{"s":7,"x":1082,"y":-0.37},{"s":7,"x":1060,"y":-0.53},{"s":7,"x":1000,"y":-0.67},{"s":7,"x":970,"y":-0.7},{"s":7,"x":960,"y":-0.63},{"s":7,"x":940,"y":-0.68},{"s":7,"x":900,"y":-0.61},{"s":7,"x":866,"y":-0.52},{"s":7,"x":840,"y":-0.57},{"s":7,"x":800,"y":-0.64},{"s":7,"x":780,"y":-0.66},
{"s":8,"x":3095,"y":-0.5},{"s":8,"x":3050,"y":-0.44},{"s":8,"x":3025,"y":-0.37},{"s":8,"x":3010,"y":0.54},{"s":8,"x":3000,"y":0.12},{"s":8,"x":2992,"y":-0.04},{"s":8,"x":2975,"y":0.53},{"s":8,"x":2960,"y":1.21},{"s":8,"x":2950,"y":1.61},{"s":8,"x":2935,"y":3.9},{"s":8,"x":2920,"y":4.07},{"s":8,"x":2895,"y":4.43},{"s":8,"x":2877,"y":3.79},{"s":8,"x":2866,"y":3.57},{"s":8,"x":2852,"y":5.25},{"s":8,"x":2840,"y":2.64},{"s":8,"x":2825,"y":-0.1},{"s":8,"x":2805,"y":-0.45},{"s":8,"x":2775,"y":-0.57},{"s":8,"x":2750,"y":-0.6},{"s":8,"x":2728,"y":-0.4},{"s":8,"x":2705,"y":-0.54},{"s":8,"x":2650,"y":-0.67},{"s":8,"x":2550,"y":-0.74},{"s":8,"x":2400,"y":-0.77},{"s":8,"x":2200,"y":-0.73},{"s":8,"x":2100,"y":-0.71},{"s":8,"x":2000,"y":-0.61},{"s":8,"x":1950,"y":-0.5},{"s":8,"x":1900,"y":-0.36},{"s":8,"x":1860,"y":-0.29},{"s":8,"x":1800,"y":-0.32},{"s":8,"x":1760,"y":-0.27},{"s":8,"x":1748,"y":-0.08},{"s":8,"x":1735,"y":-0.24},{"s":8,"x":1700,"y":-0.22},{"s":8,"x":1665,"y":-0.07},{"s":8,"x":1654,"y":0.88},{"s":8,"x":1642,"y":-0.06},{"s":8,"x":1600,"y":-0.02},{"s":8,"x":1500,"y":0.15},{"s":8,"x":1460,"y":1.03},{"s":8,"x":1440,"y":1.66},{"s":8,"x":1420,"y":0.78},{"s":8,"x":1390,"y":0.71},{"s":8,"x":1360,"y":0.62},{"s":8,"x":1330,"y":0.39},{"s":8,"x":1303,"y":0.59},{"s":8,"x":1290,"y":0.12},{"s":8,"x":1265,"y":0.15},{"s":8,"x":1250,"y":-0.15},{"s":8,"x":1200,"y":-0.36},{"s":8,"x":1140,"y":-0.44},{"s":8,"x":1125,"y":-0.36},{"s":8,"x":1110,"y":-0.46},{"s":8,"x":1082,"y":-0.2},{"s":8,"x":1060,"y":-0.36},{"s":8,"x":1000,"y":-0.52},{"s":8,"x":970,"y":-0.55},{"s":8,"x":960,"y":-0.47},{"s":8,"x":940,"y":-0.52},{"s":8,"x":900,"y":-0.44},{"s":8,"x":866,"y":-0.33},{"s":8,"x":840,"y":-0.38},{"s":8,"x":800,"y":-0.47},{"s":8,"x":780,"y":-0.5},
{"s":9,"x":3095,"y":-0.49},{"s":9,"x":3050,"y":-0.41},{"s":9,"x":3025,"y":-0.31},{"s":9,"x":3010,"y":0.63},{"s":9,"x":3000,"y":0.2},{"s":9,"x":2992,"y":0.04},{"s":9,"x":2975,"y":0.64},{"s":9,"x":2960,"y":1.33},{"s":9,"x":2950,"y":1.73},{"s":9,"x":2935,"y":4.09},{"s":9,"x":2920,"y":4.27},{"s":9,"x":2895,"y":4.65},{"s":9,"x":2877,"y":3.99},{"s":9,"x":2866,"y":3.74},{"s":9,"x":2852,"y":5.49},{"s":9,"x":2840,"y":2.84},{"s":9,"x":2825,"y":0.01},{"s":9,"x":2805,"y":-0.35},{"s":9,"x":2775,"y":-0.47},{"s":9,"x":2750,"y":-0.5},{"s":9,"x":2728,"y":-0.29},{"s":9,"x":2705,"y":-0.44},{"s":9,"x":2650,"y":-0.56},{"s":9,"x":2550,"y":-0.64},{"s":9,"x":2400,"y":-0.67},{"s":9,"x":2200,"y":-0.63},{"s":9,"x":2100,"y":-0.63},{"s":9,"x":2000,"y":-0.57},{"s":9,"x":1950,"y":-0.5},{"s":9,"x":1900,"y":-0.42},{"s":9,"x":1860,"y":-0.38},{"s":9,"x":1800,"y":-0.4},{"s":9,"x":1760,"y":-0.35},{"s":9,"x":1748,"y":-0.16},{"s":9,"x":1735,"y":-0.33},{"s":9,"x":1700,"y":-0.33},{"s":9,"x":1665,"y":-0.21},{"s":9,"x":1654,"y":0.75},{"s":9,"x":1642,"y":-0.22},{"s":9,"x":1600,"y":-0.22},{"s":9,"x":1500,"y":-0.11},{"s":9,"x":1460,"y":0.73},{"s":9,"x":1440,"y":1.34},{"s":9,"x":1420,"y":0.39},{"s":9,"x":1390,"y":0.27},{"s":9,"x":1360,"y":0.2},{"s":9,"x":1330,"y":0.1},{"s":9,"x":1303,"y":0.49},{"s":9,"x":1290,"y":0.03},{"s":9,"x":1265,"y":0.1},{"s":9,"x":1250,"y":-0.19},{"s":9,"x":1200,"y":-0.36},{"s":9,"x":1140,"y":-0.4},{"s":9,"x":1125,"y":-0.29},{"s":9,"x":1110,"y":-0.4},{"s":9,"x":1082,"y":-0.1},{"s":9,"x":1060,"y":-0.26},{"s":9,"x":1000,"y":-0.41},{"s":9,"x":970,"y":-0.44},{"s":9,"x":960,"y":-0.36},{"s":9,"x":940,"y":-0.42},{"s":9,"x":900,"y":-0.33},{"s":9,"x":866,"y":-0.21},{"s":9,"x":840,"y":-0.27},{"s":9,"x":800,"y":-0.36},{"s":9,"x":780,"y":-0.39}
],
"intf":[
{"x":3095,"y":0.155},{"x":3050,"y":0.12},{"x":3025,"y":0.095},{"x":3010,"y":0.1},{"x":3000,"y":0.085},{"x":2992,"y":0.07},{"x":2975,"y":0.08},{"x":2960,"y":0.1},{"x":2950,"y":0.12},{"x":2935,"y":0.165},{"x":2920,"y":0.17},{"x":2895,"y":0.165},{"x":2877,"y":0.15},{"x":2866,"y":0.17},{"x":2852,"y":0.185},{"x":2840,"y":0.08},{"x":2825,"y":0.035},{"x":2805,"y":0.025},{"x":2775,"y":0.02},{"x":2750,"y":0.02},{"x":2728,"y":0.025},{"x":2705,"y":0.02},{"x":2650,"y":0.015},{"x":2550,"y":0.012},{"x":2400,"y":0.012},{"x":2200,"y":0.02},{"x":2100,"y":0.04},{"x":2000,"y":0.1},{"x":1950,"y":0.17},{"x":1900,"y":0.25},{"x":1860,"y":0.29},{"x":1800,"y":0.275},{"x":1760,"y":0.28},{"x":1748,"y":0.29},{"x":1735,"y":0.3},{"x":1700,"y":0.33},{"x":1665,"y":0.37},{"x":1654,"y":0.42},{"x":1642,"y":0.39},{"x":1600,"y":0.45},{"x":1500,"y":0.54},{"x":1460,"y":0.65},{"x":1440,"y":0.71},{"x":1420,"y":0.76},{"x":1390,"y":0.82},{"x":1360,"y":0.78},{"x":1330,"y":0.6},{"x":1303,"y":0.36},{"x":1290,"y":0.31},{"x":1265,"y":0.26},{"x":1250,"y":0.23},{"x":1200,"y":0.17},{"x":1140,"y":0.1},{"x":1125,"y":0.085},{"x":1110,"y":0.07},{"x":1082,"y":0.045},{"x":1060,"y":0.03},{"x":1000,"y":0.02},{"x":970,"y":0.018},{"x":960,"y":0.017},{"x":940,"y":0.016},{"x":900,"y":0.015},{"x":866,"y":0.015},{"x":840,"y":0.015},{"x":800,"y":0.015},{"x":780,"y":0.015}
],
"emsc":[
{"s":1,"x":3095,"y":0.05},{"s":1,"x":3050,"y":0.08},{"s":1,"x":3025,"y":0.12},{"s":1,"x":3010,"y":0.46},{"s":1,"x":3000,"y":0.3},{"s":1,"x":2992,"y":0.25},{"s":1,"x":2975,"y":0.45},{"s":1,"x":2960,"y":0.68},{"s":1,"x":2950,"y":0.81},{"s":1,"x":2935,"y":1.62},{"s":1,"x":2920,"y":1.67},{"s":1,"x":2895,"y":1.79},{"s":1,"x":2877,"y":1.57},{"s":1,"x":2866,"y":1.48},{"s":1,"x":2852,"y":2.09},{"s":1,"x":2840,"y":1.2},{"s":1,"x":2825,"y":0.25},{"s":1,"x":2805,"y":0.13},{"s":1,"x":2775,"y":0.09},{"s":1,"x":2750,"y":0.08},{"s":1,"x":2728,"y":0.15},{"s":1,"x":2705,"y":0.1},{"s":1,"x":2650,"y":0.06},{"s":1,"x":2550,"y":0.035},{"s":1,"x":2400,"y":0.027},{"s":1,"x":2200,"y":0.035},{"s":1,"x":2100,"y":0.032},{"s":1,"x":2000,"y":0.03},{"s":1,"x":1950,"y":0.032},{"s":1,"x":1900,"y":0.036},{"s":1,"x":1860,"y":0.035},{"s":1,"x":1800,"y":0.035},{"s":1,"x":1760,"y":0.05},{"s":1,"x":1748,"y":0.11},{"s":1,"x":1735,"y":0.05},{"s":1,"x":1700,"y":0.04},{"s":1,"x":1665,"y":0.07},{"s":1,"x":1654,"y":0.39},{"s":1,"x":1642,"y":0.06},{"s":1,"x":1600,"y":0.04},{"s":1,"x":1500,"y":0.05},{"s":1,"x":1460,"y":0.3},{"s":1,"x":1440,"y":0.5},{"s":1,"x":1420,"y":0.15},{"s":1,"x":1390,"y":0.09},{"s":1,"x":1360,"y":0.08},{"s":1,"x":1330,"y":0.1},{"s":1,"x":1303,"y":0.31},{"s":1,"x":1290,"y":0.17},{"s":1,"x":1265,"y":0.21},{"s":1,"x":1250,"y":0.12},{"s":1,"x":1200,"y":0.08},{"s":1,"x":1140,"y":0.09},{"s":1,"x":1125,"y":0.13},{"s":1,"x":1110,"y":0.1},{"s":1,"x":1082,"y":0.21},{"s":1,"x":1060,"y":0.16},{"s":1,"x":1000,"y":0.11},{"s":1,"x":970,"y":0.1},{"s":1,"x":960,"y":0.13},{"s":1,"x":940,"y":0.11},{"s":1,"x":900,"y":0.14},{"s":1,"x":866,"y":0.18},{"s":1,"x":840,"y":0.16},{"s":1,"x":800,"y":0.13},{"s":1,"x":780,"y":0.12},
{"s":2,"x":3095,"y":0.045},{"s":2,"x":3050,"y":0.08},{"s":2,"x":3025,"y":0.12},{"s":2,"x":3010,"y":0.43},{"s":2,"x":3000,"y":0.3},{"s":2,"x":2992,"y":0.25},{"s":2,"x":2975,"y":0.45},{"s":2,"x":2960,"y":0.68},{"s":2,"x":2950,"y":0.81},{"s":2,"x":2935,"y":1.6},{"s":2,"x":2920,"y":1.66},{"s":2,"x":2895,"y":1.78},{"s":2,"x":2877,"y":1.57},{"s":2,"x":2866,"y":1.49},{"s":2,"x":2852,"y":2.08},{"s":2,"x":2840,"y":1.2},{"s":2,"x":2825,"y":0.25},{"s":2,"x":2805,"y":0.13},{"s":2,"x":2775,"y":0.09},{"s":2,"x":2750,"y":0.08},{"s":2,"x":2728,"y":0.15},{"s":2,"x":2705,"y":0.1},{"s":2,"x":2650,"y":0.06},{"s":2,"x":2550,"y":0.035},{"s":2,"x":2400,"y":0.028},{"s":2,"x":2200,"y":0.033},{"s":2,"x":2100,"y":0.03},{"s":2,"x":2000,"y":0.03},{"s":2,"x":1950,"y":0.033},{"s":2,"x":1900,"y":0.035},{"s":2,"x":1860,"y":0.036},{"s":2,"x":1800,"y":0.035},{"s":2,"x":1760,"y":0.05},{"s":2,"x":1748,"y":0.11},{"s":2,"x":1735,"y":0.05},{"s":2,"x":1700,"y":0.04},{"s":2,"x":1665,"y":0.07},{"s":2,"x":1654,"y":0.36},{"s":2,"x":1642,"y":0.06},{"s":2,"x":1600,"y":0.04},{"s":2,"x":1500,"y":0.05},{"s":2,"x":1460,"y":0.3},{"s":2,"x":1440,"y":0.49},{"s":2,"x":1420,"y":0.15},{"s":2,"x":1390,"y":0.09},{"s":2,"x":1360,"y":0.08},{"s":2,"x":1330,"y":0.1},{"s":2,"x":1303,"y":0.31},{"s":2,"x":1290,"y":0.17},{"s":2,"x":1265,"y":0.22},{"s":2,"x":1250,"y":0.12},{"s":2,"x":1200,"y":0.08},{"s":2,"x":1140,"y":0.09},{"s":2,"x":1125,"y":0.13},{"s":2,"x":1110,"y":0.1},{"s":2,"x":1082,"y":0.21},{"s":2,"x":1060,"y":0.16},{"s":2,"x":1000,"y":0.11},{"s":2,"x":970,"y":0.1},{"s":2,"x":960,"y":0.13},{"s":2,"x":940,"y":0.11},{"s":2,"x":900,"y":0.14},{"s":2,"x":866,"y":0.18},{"s":2,"x":840,"y":0.16},{"s":2,"x":800,"y":0.13},{"s":2,"x":780,"y":0.12},
{"s":3,"x":3095,"y":0.04},{"s":3,"x":3050,"y":0.08},{"s":3,"x":3025,"y":0.12},{"s":3,"x":3010,"y":0.44},{"s":3,"x":3000,"y":0.3},{"s":3,"x":2992,"y":0.25},{"s":3,"x":2975,"y":0.45},{"s":3,"x":2960,"y":0.68},{"s":3,"x":2950,"y":0.81},{"s":3,"x":2935,"y":1.6},{"s":3,"x":2920,"y":1.66},{"s":3,"x":2895,"y":1.79},{"s":3,"x":2877,"y":1.57},{"s":3,"x":2866,"y":1.48},{"s":3,"x":2852,"y":2.07},{"s":3,"x":2840,"y":1.2},{"s":3,"x":2825,"y":0.25},{"s":3,"x":2805,"y":0.13},{"s":3,"x":2775,"y":0.09},{"s":3,"x":2750,"y":0.08},{"s":3,"x":2728,"y":0.15},{"s":3,"x":2705,"y":0.1},{"s":3,"x":2650,"y":0.06},{"s":3,"x":2550,"y":0.035},{"s":3,"x":2400,"y":0.027},{"s":3,"x":2200,"y":0.035},{"s":3,"x":2100,"y":0.03},{"s":3,"x":2000,"y":0.03},{"s":3,"x":1950,"y":0.032},{"s":3,"x":1900,"y":0.035},{"s":3,"x":1860,"y":0.035},{"s":3,"x":1800,"y":0.035},{"s":3,"x":1760,"y":0.05},{"s":3,"x":1748,"y":0.11},{"s":3,"x":1735,"y":0.05},{"s":3,"x":1700,"y":0.04},{"s":3,"x":1665,"y":0.07},{"s":3,"x":1654,"y":0.38},{"s":3,"x":1642,"y":0.06},{"s":3,"x":1600,"y":0.04},{"s":3,"x":1500,"y":0.05},{"s":3,"x":1460,"y":0.3},{"s":3,"x":1440,"y":0.49},{"s":3,"x":1420,"y":0.15},{"s":3,"x":1390,"y":0.09},{"s":3,"x":1360,"y":0.08},{"s":3,"x":1330,"y":0.1},{"s":3,"x":1303,"y":0.31},{"s":3,"x":1290,"y":0.17},{"s":3,"x":1265,"y":0.21},{"s":3,"x":1250,"y":0.12},{"s":3,"x":1200,"y":0.08},{"s":3,"x":1140,"y":0.09},{"s":3,"x":1125,"y":0.13},{"s":3,"x":1110,"y":0.1},{"s":3,"x":1082,"y":0.21},{"s":3,"x":1060,"y":0.16},{"s":3,"x":1000,"y":0.11},{"s":3,"x":970,"y":0.1},{"s":3,"x":960,"y":0.13},{"s":3,"x":940,"y":0.11},{"s":3,"x":900,"y":0.14},{"s":3,"x":866,"y":0.18},{"s":3,"x":840,"y":0.16},{"s":3,"x":800,"y":0.13},{"s":3,"x":780,"y":0.12}
]
},
"columns":2,
"spacing":{"row":106,"column":88},
"bounds":"flush",
"resolve":{"scale":{"color":"independent"}},
"concat":[
{"width":376,"height":232,"title":{"text":"Raw data","offset":-16.5},"data":{"name":"raw"},
"layer":[
{"mark":{"type":"line","clip":true,"strokeWidth":1.2,"interpolate":"monotone"},
"encoding":{
"x":{"field":"x","type":"quantitative","scale":{"domain":[780,3090],"reverse":true,"nice":false,"zero":false},"axis":{"values":[1000,1500,2000,2500,3000],"format":"d","title":"Wavenumber/cm⁻¹","labelPadding":13.5,"titlePadding":12}},
"y":{"field":"y","type":"quantitative","scale":{"domain":[-0.2,2.54],"nice":false,"zero":false},"axis":{"values":[0,0.5,1,1.5,2,2.5],"format":"~g","title":"Raman Intensity/Arbitr. Units","labelPadding":13,"titlePadding":11}},
"color":{"field":"s","type":"nominal","scale":{"domain":[1,2,3,4,5,6,7,8,9],"range":["#0072BD","#D95319","#EDB120","#7E2F8E","#77AC30","#4DBEEE","#A2142F","#0072BD","#A2142F"]},"legend":null}}},
{"transform":[{"filter":"datum.x == 2000"}],"mark":{"type":"point","opacity":0},
"encoding":{
"x":{"field":"x","type":"quantitative","scale":{"domain":[780,3090],"reverse":true,"nice":false,"zero":false},"axis":{"orient":"top","values":[1000,1500,2000,2500,3000],"labels":false,"title":null}},
"y":{"field":"y","type":"quantitative","scale":{"domain":[-0.2,2.54],"nice":false,"zero":false},"axis":{"orient":"right","values":[0,0.5,1,1.5,2,2.5],"labels":false,"title":null}}}},
{"data":{"values":[{"t":"×10⁵"}]},"mark":{"type":"text","align":"left","baseline":"alphabetic","dy":-5},
"encoding":{"x":{"datum":3078,"axis":null},"y":{"datum":2.54,"axis":null},"text":{"field":"t"}}}
],
"resolve":{"axis":{"x":"independent","y":"independent"}}},
{"width":367,"height":232,"title":{"text":"Interferent","offset":-16.5},"data":{"name":"intf"},
"layer":[
{"mark":{"type":"line","clip":true,"strokeWidth":1.2,"color":"#0072BD","interpolate":"monotone"},
"encoding":{
"x":{"field":"x","type":"quantitative","scale":{"domain":[845,3096],"reverse":true,"nice":false,"zero":false},"axis":{"values":[1000,1500,2000,2500,3000],"format":"d","title":"Wavenumber/cm⁻¹","labelPadding":13.5,"titlePadding":12}},
"y":{"field":"y","type":"quantitative","scale":{"domain":[-0.2,2.54],"nice":false,"zero":false},"axis":{"values":[0,0.5,1,1.5,2,2.5],"format":"~g","title":"Raman Intensity/Arbitr. Units","labelPadding":13,"titlePadding":11}}}},
{"transform":[{"filter":"datum.x == 2000"}],"mark":{"type":"point","opacity":0},
"encoding":{
"x":{"field":"x","type":"quantitative","scale":{"domain":[845,3096],"reverse":true,"nice":false,"zero":false},"axis":{"orient":"top","values":[1000,1500,2000,2500,3000],"labels":false,"title":null}},
"y":{"field":"y","type":"quantitative","scale":{"domain":[-0.2,2.54],"nice":false,"zero":false},"axis":null}}},
{"data":{"values":[{"t":"×10⁵"}]},"mark":{"type":"text","align":"left","baseline":"alphabetic","dy":-5},
"encoding":{"x":{"datum":3084,"axis":null},"y":{"datum":2.54,"axis":null},"text":{"field":"t"}}}
],
"resolve":{"axis":{"x":"independent","y":"independent"}}},
{"width":376,"height":232,"title":{"text":"SNV","offset":-18.5},"data":{"name":"snv"},
"layer":[
{"mark":{"type":"line","clip":true,"strokeWidth":1.2,"interpolate":"monotone"},
"encoding":{
"x":{"field":"x","type":"quantitative","scale":{"domain":[780,3090],"reverse":true,"nice":false,"zero":false},"axis":{"values":[1000,1500,2000,2500,3000],"format":"d","title":"Wavenumber/cm⁻¹","labelPadding":13.5,"titlePadding":12}},
"y":{"field":"y","type":"quantitative","scale":{"domain":[-0.75,5.75],"nice":false,"zero":false},"axis":{"values":[0,1,2,3,4,5],"format":"~g","title":"Raman Intensity/Arbitr. Units","labelPadding":13,"titlePadding":11}},
"color":{"field":"s","type":"nominal","scale":{"domain":[1,2,3,4,5,6,7,8,9],"range":["#0072BD","#D95319","#EDB120","#7E2F8E","#77AC30","#4DBEEE","#A2142F","#0072BD","#A2142F"]},"legend":null}}},
{"transform":[{"filter":"datum.x == 2000"}],"mark":{"type":"point","opacity":0},
"encoding":{
"x":{"field":"x","type":"quantitative","scale":{"domain":[780,3090],"reverse":true,"nice":false,"zero":false},"axis":{"orient":"top","values":[1000,1500,2000,2500,3000],"labels":false,"title":null}},
"y":{"field":"y","type":"quantitative","scale":{"domain":[-0.75,5.75],"nice":false,"zero":false},"axis":{"orient":"right","values":[0,1,2,3,4,5],"labels":false,"title":null}}}},
{"data":{"values":[{"t":" "}]},"mark":{"type":"text","align":"left","baseline":"alphabetic","dy":-5},
"encoding":{"x":{"datum":3078,"axis":null},"y":{"datum":5.75,"axis":null},"text":{"field":"t"}}}
],
"resolve":{"axis":{"x":"independent","y":"independent"}}},
{"width":367,"height":232,"title":{"text":"EMSC with interferent","offset":-18.5},"data":{"name":"emsc"},
"layer":[
{"mark":{"type":"line","clip":true,"strokeWidth":1.2,"interpolate":"monotone"},
"encoding":{
"x":{"field":"x","type":"quantitative","scale":{"domain":[845,3096],"reverse":true,"nice":false,"zero":false},"axis":{"values":[1000,1500,2000,2500,3000],"format":"d","title":"Wavenumber/cm⁻¹","labelPadding":13.5,"titlePadding":12}},
"y":{"field":"y","type":"quantitative","scale":{"domain":[0.025,2.09],"nice":false,"zero":false},"axis":{"values":[0.5,1,1.5,2],"format":"~g","title":"Raman Intensity/Arbitr. Units","labelPadding":13,"titlePadding":11}},
"color":{"field":"s","type":"nominal","scale":{"domain":[1,2,3],"range":["#0072BD","#77AC30","#A2142F"]},"legend":null}}},
{"transform":[{"filter":"datum.x == 2000"}],"mark":{"type":"point","opacity":0},
"encoding":{
"x":{"field":"x","type":"quantitative","scale":{"domain":[845,3096],"reverse":true,"nice":false,"zero":false},"axis":{"orient":"top","values":[1000,1500,2000,2500,3000],"labels":false,"title":null}},
"y":{"field":"y","type":"quantitative","scale":{"domain":[0.025,2.09],"nice":false,"zero":false},"axis":null}}},
{"data":{"values":[{"t":"×10⁵"}]},"mark":{"type":"text","align":"left","baseline":"alphabetic","dy":-5},
"encoding":{"x":{"datum":3084,"axis":null},"y":{"datum":2.09,"axis":null},"text":{"field":"t"}}}
],
"resolve":{"axis":{"x":"independent","y":"independent"}}}
]
}
